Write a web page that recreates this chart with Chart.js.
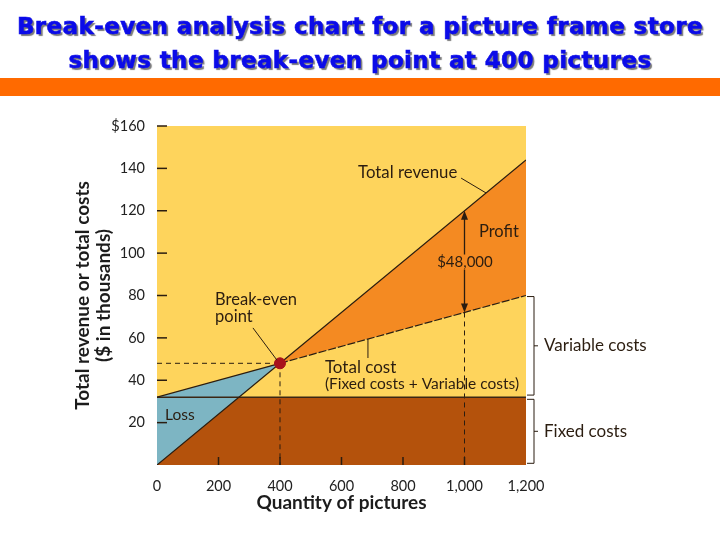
<!DOCTYPE html>
<html>
<head>
<meta charset="utf-8">
<script src="https://cdn.jsdelivr.net/npm/chart.js@4.4.1/dist/chart.umd.min.js"></script>
<style>
  body { margin: 0; width: 720px; height: 540px; background: #fff; position: relative; overflow: hidden; }
  #title { position: absolute; left: 0; top: 9px; width: 720px; text-align: center; font: bold 23px "DejaVu Sans"; letter-spacing: 0.4px; color: #0b0be8; -webkit-text-stroke: 0.6px #0b0be8; line-height: 34px; text-shadow: 2px 2px 1px #7a7a7a; z-index: 2; }
  #bar { position: absolute; left: 0; top: 78px; width: 720px; height: 18px; background: #ff6a00; z-index: 2; }
  #wrap { position: absolute; left: 0; top: 0; width: 720px; height: 540px; }
</style>
</head>
<body>
<div id="title">Break-even analysis chart for a picture frame store<br>shows the break-even point at 400 pictures</div>
<div id="bar"></div>
<div id="wrap"><canvas id="chartBreakEven"></canvas></div>
<script>
// values in $ thousands, quantity in pictures
const quantities = [0, 400, 1200];
const revenue = [0, 48, 144];
const totalCost = [32, 48, 80];
const fixedQty = [0, 1200];
const fixedCost = [32, 32];
const breakEven = [400, 48];
const profitQty = 1000;
const profitLow = 72;
const profitHigh = 120;

const ink = "#2b1d10";
const font = "Lato";
const orange = "#f48a22";

const pts = (xs, ys) => xs.map((x, i) => ({ x: x, y: ys[i] }));

const decor = {
  id: "decor",
  beforeDraw(chart) {
    const { ctx, chartArea: a } = chart;
    ctx.save();
    ctx.fillStyle = "#fed45c";
    ctx.fillRect(a.left, a.top, a.right - a.left, a.bottom - a.top);
    ctx.restore();
  },
  afterDraw(chart) {
    const { ctx, chartArea: a } = chart;
    const X = v => chart.scales.x.getPixelForValue(v);
    const Y = v => chart.scales.y.getPixelForValue(v);
    ctx.save();
    ctx.strokeStyle = ink;
    ctx.fillStyle = ink;
    ctx.lineWidth = 1.5;

    // tick marks inside the plot
    for (let v = 20; v <= 160; v += 20) {
      ctx.beginPath(); ctx.moveTo(a.left, Y(v)); ctx.lineTo(a.left + 10, Y(v)); ctx.stroke();
    }
    for (let v = 200; v <= 1000; v += 200) {
      ctx.beginPath(); ctx.moveTo(X(v), a.bottom); ctx.lineTo(X(v), a.bottom - 8); ctx.stroke();
    }

    // profit arrow
    const ax = X(profitQty), y1 = Y(profitHigh), y2 = Y(profitLow);
    ctx.lineWidth = 1.3;
    ctx.beginPath(); ctx.moveTo(ax, y1 + 4); ctx.lineTo(ax, y2 - 4); ctx.stroke();
    ctx.beginPath(); ctx.moveTo(ax, y1); ctx.lineTo(ax - 3.5, y1 + 9); ctx.lineTo(ax + 3.5, y1 + 9); ctx.closePath(); ctx.fill();
    ctx.beginPath(); ctx.moveTo(ax, y2); ctx.lineTo(ax - 3.5, y2 - 9); ctx.lineTo(ax + 3.5, y2 - 9); ctx.closePath(); ctx.fill();

    // leader lines
    ctx.lineWidth = 1;
    const lead = (x1, v1, x2, v2) => { ctx.beginPath(); ctx.moveTo(X(x1), Y(v1)); ctx.lineTo(X(x2), Y(v2)); ctx.stroke(); };
    lead(989, 135.4, 1070, 128.4);
    lead(312, 64.7, 390, 49.5);
    lead(686, 59.4, 686, 50.5);

    // brackets on the right
    const bx = a.right + 8;
    const bracket = (top, bottom, label) => {
      ctx.beginPath();
      ctx.moveTo(a.right + 1, Y(top)); ctx.lineTo(bx, Y(top)); ctx.lineTo(bx, Y(bottom)); ctx.lineTo(a.right + 1, Y(bottom));
      ctx.stroke();
      const mid = (Y(top) + Y(bottom)) / 2;
      ctx.beginPath(); ctx.moveTo(bx, mid); ctx.lineTo(bx + 4, mid); ctx.stroke();
      ctx.font = "17px " + font;
      ctx.textAlign = "left"; ctx.textBaseline = "middle";
      ctx.fillText(label, bx + 10, mid);
    };
    bracket(79.5, 33, "Variable costs");
    bracket(31, 0.8, "Fixed costs");

    // labels
    const text = (s, x, v, size, knock) => {
      ctx.font = size + "px " + font;
      ctx.textAlign = "left"; ctx.textBaseline = "middle";
      if (knock) {
        const w = ctx.measureText(s).width;
        ctx.fillStyle = knock;
        ctx.fillRect(X(x) - 1, Y(v) - size / 2, w + 2, size);
        ctx.fillStyle = ink;
      }
      ctx.fillText(s, X(x), Y(v));
    };
    text("Total revenue", 654, 137.8, 16.8);
    text("Profit", 1047, 110, 16.5);
    text("$48,000", 911, 95.8, 15, orange);
    text("Break-even", 189, 77.9, 16.5);
    text("point", 189, 69.8, 16.5);
    text("Total cost", 546, 46.2, 17);
    text("(Fixed costs + Variable costs)", 546, 38.2, 15.5);
    text("Loss", 26, 23.6, 15.5);
    ctx.restore();
  },
};

document.addEventListener("DOMContentLoaded", () => {
  new Chart(document.querySelector("#chartBreakEven"), {
    type: "line",
    data: {
      datasets: [
        {
          label: "Total revenue",
          data: pts(quantities, revenue),
          borderColor: ink,
          borderWidth: 1.2,
          pointRadius: 0,
          fill: { target: 1, above: orange, below: "#7db5c3" },
        },
        {
          label: "Total cost",
          data: pts(quantities, totalCost),
          borderColor: ink,
          borderWidth: 1.2,
          pointRadius: 0,
          fill: false,
          segment: { borderDash: c => (c.p0.parsed.x >= 400 ? [8, 2] : undefined) },
        },
        {
          label: "Fixed costs",
          data: pts(fixedQty, fixedCost),
          borderColor: "#3a2614",
          borderWidth: 1.6,
          pointRadius: 0,
          backgroundColor: "#b4520c",
          fill: "origin",
        },
        {
          label: "guide h",
          data: [{ x: 0, y: breakEven[1] }, { x: breakEven[0], y: breakEven[1] }],
          borderColor: ink, borderWidth: 1, borderDash: [5, 4], pointRadius: 0, fill: false,
        },
        {
          label: "guide v",
          data: [{ x: breakEven[0], y: breakEven[1] }, { x: breakEven[0], y: 0 }],
          borderColor: ink, borderWidth: 1, borderDash: [5, 4], pointRadius: 0, fill: false,
        },
        {
          label: "guide profit",
          data: [{ x: profitQty, y: profitLow }, { x: profitQty, y: 0 }],
          borderColor: ink, borderWidth: 1, borderDash: [5, 4], pointRadius: 0, fill: false,
        },
        {
          label: "Break-even point",
          data: [{ x: breakEven[0], y: breakEven[1] }],
          showLine: false,
          pointRadius: 5.5,
          pointBackgroundColor: "#a8121c",
          pointBorderColor: "#a8121c",
          order: -1,
        },
      ],
    },
    options: {
      responsive: true,
      maintainAspectRatio: false,
      animation: false,
      layout: { padding: { top: 126, right: 194, left: 0, bottom: 0 } },
      scales: {
        x: {
          type: "linear",
          min: 0,
          max: 1200,
          grid: { display: false },
          border: { display: false },
          ticks: {
            stepSize: 200,
            padding: 5,
            maxRotation: 0,
            color: "#222",
            font: { family: font, size: 14.5 },
            callback: v => v.toLocaleString("en-US"),
          },
          title: {
            display: true,
            text: "Quantity of pictures",
            color: "#1c1c1c",
            font: { family: font, size: 19, weight: "bold" },
            padding: { top: 0, bottom: 26 },
          },
          afterFit: s => { s.height = 75; },
        },
        y: {
          min: 0,
          max: 160,
          grid: { display: false },
          border: { display: false },
          ticks: {
            stepSize: 20,
            padding: 4,
            color: "#222",
            font: { family: font, size: 14.5 },
            callback: v => (v === 0 ? "" : v === 160 ? "$160" : v),
          },
          title: {
            display: true,
            text: ["Total revenue or total costs", "($ in thousands)"],
            color: "#1c1c1c",
            font: { family: font, size: 19, weight: "bold", lineHeight: 1.1 },
            padding: { top: 72.5, bottom: 0 },
          },
          afterFit: s => { s.width = 157; },
        },
      },
      plugins: {
        legend: { display: false },
        tooltip: { enabled: false },
        filler: { drawTime: "beforeDatasetsDraw" },
      },
    },
    plugins: [decor],
  });
});
</script>
</body>
</html>
